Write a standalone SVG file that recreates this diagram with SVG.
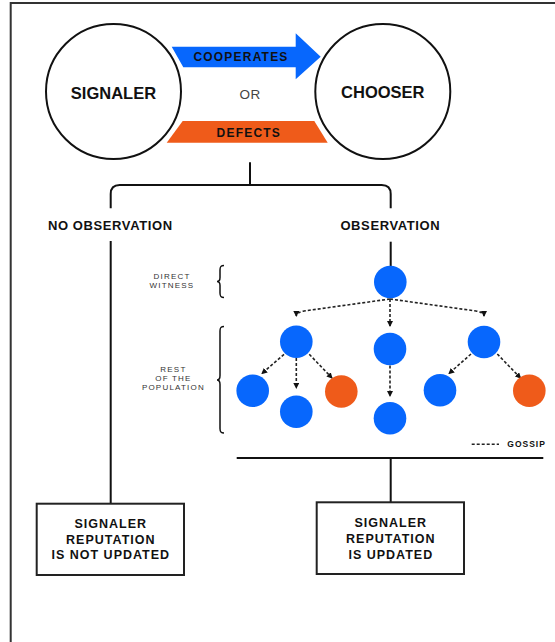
<svg xmlns="http://www.w3.org/2000/svg" width="555" height="642" viewBox="0 0 555 642">
<defs>
<style>
.t{font-family:"Liberation Sans",Arial,sans-serif;fill:#111;text-anchor:middle}
.big{font-size:16.5px;font-weight:bold}
.lab{font-size:12px;font-weight:bold;letter-spacing:1.2px}
.hdr{font-size:13px;font-weight:bold;letter-spacing:0.6px}
.box{font-size:12.5px;font-weight:bold;letter-spacing:1px}
.sm{font-size:8px;letter-spacing:1.2px;fill:#333}
.ln{fill:none;stroke:#111;stroke-width:2}
.br{fill:none;stroke:#111;stroke-width:1.5}
.g{fill:none;stroke:#222;stroke-width:1.6;stroke-dasharray:3 2;marker-end:url(#ah)}
.blue{fill:#0767fd}
.orng{fill:#ef5b1a}
</style>
<marker id="ah" viewBox="0 0 6 6" refX="5" refY="3" markerWidth="6" markerHeight="6" markerUnits="userSpaceOnUse" orient="auto">
<path d="M0,0 L6,3 L0,6 z" fill="#111"/>
</marker>
</defs>
<rect x="0" y="0" width="555" height="642" fill="#fff"/>
<rect x="10.7" y="3" width="700" height="800" fill="none" stroke="#333" stroke-width="2"/>

<g id="signaler">
<circle cx="113.5" cy="91.5" r="67.5" fill="#fff" stroke="#111" stroke-width="2"/>
<text class="t big" x="113.5" y="98.5">SIGNALER</text>
</g>
<g id="chooser">
<circle cx="382.8" cy="91.5" r="67.5" fill="#fff" stroke="#111" stroke-width="2"/>
<text class="t big" x="382.8" y="97.5">CHOOSER</text>
</g>
<g id="cooperates">
<polygon class="blue" points="171.7,46.7 295.7,46.7 295.7,33.3 320.7,56.7 295.7,79.3 295.7,67.3 183.3,67.3"/>
<text class="t lab" x="241" y="60.7">COOPERATES</text>
</g>
<g id="or">
<text class="t" x="250" y="99.3" style="font-size:13.5px;fill:#444;letter-spacing:0.5px">OR</text>
</g>
<g id="defects">
<polygon class="orng" points="182.7,121 314.3,121 327.7,142.7 166.7,142.7"/>
<text class="t lab" x="248.8" y="136.7">DEFECTS</text>
</g>

<g id="connectors">
<path class="ln" d="M250,162.3 V185"/>
<path class="ln" d="M110.7,208.3 V194 Q110.7,185 119.7,185 H381.7 Q390.7,185 390.7,194 V208.3"/>
<path class="ln" d="M110.7,241 V503.7"/>
<path class="ln" d="M390.7,241.7 V266"/>
<path class="ln" d="M236.7,458 H543.3"/>
<path class="ln" d="M390.7,458 V502.3"/>
<path class="g" d="M390,299 L304,311 Q296.3,312.5 296.3,316"/>
<path class="g" d="M390,299 L476,311 Q484,312.5 484,316"/>
<path class="g" d="M390,299 V326"/>
<path class="g" d="M284,354.3 L262,373.5"/>
<path class="g" d="M296.3,358 V388"/>
<path class="g" d="M309.3,354.3 L332,378"/>
<path class="g" d="M390,365.5 V396"/>
<path class="g" d="M471,354 L449,373.5"/>
<path class="g" d="M497.3,354 L520.5,378"/>
</g>

<g id="no-observation">
<text class="t hdr" x="110.3" y="230">NO OBSERVATION</text>
</g>
<g id="observation">
<text class="t hdr" x="390.3" y="230">OBSERVATION</text>
</g>

<g id="direct-witness">
<text class="t sm" x="172" y="278.5">DIRECT</text>
<text class="t sm" x="172" y="288">WITNESS</text>
<path class="br" d="M224,265.5 C220.5,265.5 220,267 220,270 V277.5 C220,280.5 219,281.5 217,281.5 C219,281.5 220,282.5 220,285.5 V293 C220,296 220.5,297.5 224,297.5"/>
</g>
<g id="rest-population">
<text class="t sm" x="173.4" y="371.5">REST</text>
<text class="t sm" x="173.4" y="380.9">OF THE</text>
<text class="t sm" x="173.4" y="390.3">POPULATION</text>
<path class="br" d="M224,326.5 C220.5,326.5 220,328 220,331 V375.5 C220,378.5 219,380 217,380 C219,380 220,381.5 220,384.5 V428.5 C220,431.5 220.5,433 224,433"/>
</g>

<g id="witness-node"><circle class="blue" cx="390.3" cy="282" r="16.3"/></g>
<g id="pop-left"><circle class="blue" cx="296.3" cy="341.7" r="16.3"/></g>
<g id="pop-mid"><circle class="blue" cx="390" cy="349" r="16.3"/></g>
<g id="pop-right"><circle class="blue" cx="484" cy="342" r="16.3"/></g>
<g id="pop-ll"><circle class="blue" cx="252.7" cy="390.7" r="16.3"/></g>
<g id="pop-lb"><circle class="blue" cx="296.3" cy="411.7" r="16.3"/></g>
<g id="pop-lo"><circle class="orng" cx="341.3" cy="391.5" r="16.3"/></g>
<g id="pop-mb"><circle class="blue" cx="390" cy="418.3" r="16.3"/></g>
<g id="pop-rl"><circle class="blue" cx="440" cy="390.3" r="16.3"/></g>
<g id="pop-ro"><circle class="orng" cx="529.3" cy="390.7" r="16.3"/></g>

<g id="legend">
<path d="M471.7,444.3 H499" stroke="#222" stroke-width="1.6" stroke-dasharray="3 2" fill="none"/>
<text class="t" x="507.3" y="446.7" style="text-anchor:start;font-size:8.5px;font-weight:bold;letter-spacing:1px">GOSSIP</text>
</g>

<g id="not-updated">
<rect x="36.7" y="503.7" width="147.3" height="71.3" fill="#fff" stroke="#222" stroke-width="2"/>
<text class="t box" x="110.8" y="528">SIGNALER</text>
<text class="t box" x="110.8" y="543.7">REPUTATION</text>
<text class="t box" x="110.8" y="559.3">IS NOT UPDATED</text>
</g>
<g id="updated">
<rect x="316.7" y="502.3" width="147.3" height="71.7" fill="#fff" stroke="#222" stroke-width="2"/>
<text class="t box" x="390.8" y="527.3">SIGNALER</text>
<text class="t box" x="390.8" y="543">REPUTATION</text>
<text class="t box" x="390.8" y="558.7">IS UPDATED</text>
</g>
</svg>
